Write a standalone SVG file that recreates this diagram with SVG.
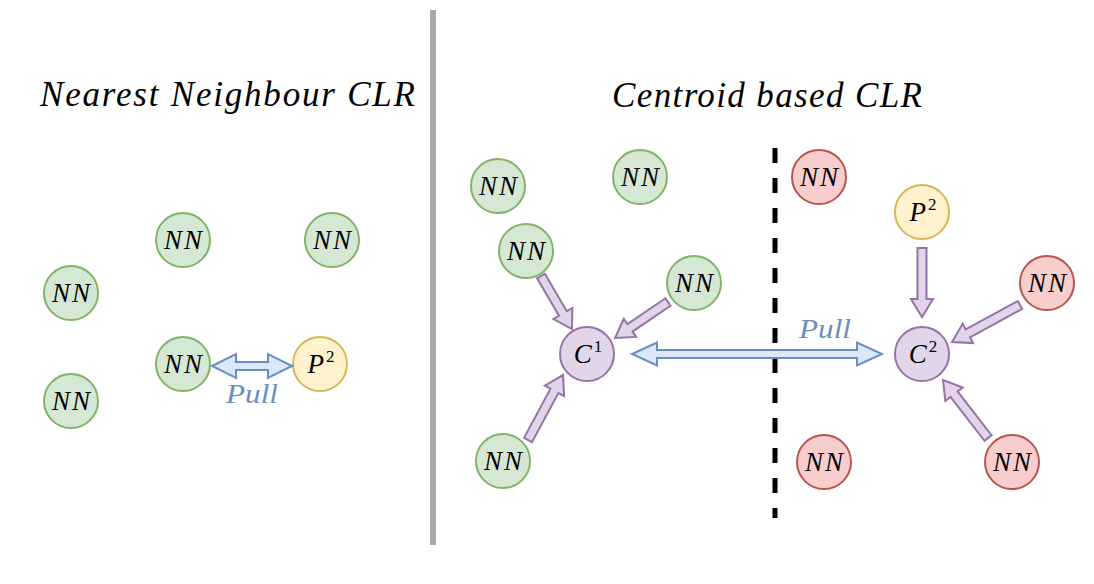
<svg xmlns="http://www.w3.org/2000/svg" width="1094" height="584" viewBox="0 0 1094 584">
<style>
.t{font-family:"Liberation Serif","DejaVu Serif",serif;font-style:italic;fill:#000}
.title{font-size:35px}
.nl{font-size:27px;text-anchor:middle;letter-spacing:2px}
.sup{font-style:normal;font-size:17px;letter-spacing:0}
.g{fill:#d5e8d4;stroke:#82b366;stroke-width:2}
.r{fill:#f8cecc;stroke:#b85450;stroke-width:2}
.y{fill:#fff2cc;stroke:#d6b656;stroke-width:2}
.p{fill:#e1d5e7;stroke:#9673a6;stroke-width:2}
.pa{fill:#e1d5e7;stroke:#9673a6;stroke-width:2;stroke-linejoin:miter}
.ba{fill:#dae8fc;stroke:#6c8ebf;stroke-width:2}
.pull{font-family:"Liberation Serif","DejaVu Serif",serif;font-style:italic;font-size:28px;fill:#6c8ebf}
</style>
<rect width="1094" height="584" fill="#fff"/>
<line x1="433" y1="10" x2="433" y2="545" stroke="#aaaaaa" stroke-width="6"/>
<line x1="775" y1="148" x2="775" y2="518" stroke="#000" stroke-width="5" stroke-dasharray="15 15"/>
<text class="t title" x="40" y="106" textLength="375" lengthAdjust="spacing">Nearest Neighbour CLR</text>
<text class="t title" x="612" y="107" textLength="310" lengthAdjust="spacing">Centroid based CLR</text>

<g id="L-nn1"><circle class="g" cx="183" cy="240" r="27"/><text class="t nl" x="184" y="249">NN</text></g>
<g id="L-nn2"><circle class="g" cx="332" cy="240" r="27"/><text class="t nl" x="333" y="249">NN</text></g>
<g id="L-nn3"><circle class="g" cx="71" cy="293" r="27"/><text class="t nl" x="72" y="302">NN</text></g>
<g id="L-nn4"><circle class="g" cx="183" cy="364" r="27"/><text class="t nl" x="184" y="373">NN</text></g>
<g id="L-p2"><circle class="y" cx="320" cy="364" r="27"/><text class="t nl" x="321" y="373">P<tspan class="sup" dy="-11">2</tspan></text></g>
<g id="L-nn5"><circle class="g" cx="71" cy="401" r="27"/><text class="t nl" x="72" y="410">NN</text></g>

<g id="R-nn1"><circle class="g" cx="498" cy="186" r="27"/><text class="t nl" x="499" y="195">NN</text></g>
<g id="R-nn2"><circle class="g" cx="640" cy="177" r="27"/><text class="t nl" x="641" y="186">NN</text></g>
<g id="R-nn3"><circle class="g" cx="526" cy="251" r="27"/><text class="t nl" x="527" y="260">NN</text></g>
<g id="R-nn4"><circle class="g" cx="694" cy="283" r="27"/><text class="t nl" x="695" y="292">NN</text></g>
<g id="R-c1"><circle class="p" cx="587" cy="354" r="27"/><text class="t nl" x="588" y="363">C<tspan class="sup" dy="-11">1</tspan></text></g>
<g id="R-nn5"><circle class="g" cx="503" cy="461" r="27"/><text class="t nl" x="504" y="470">NN</text></g>

<g id="R-rn1"><circle class="r" cx="819" cy="177" r="27"/><text class="t nl" x="820" y="186">NN</text></g>
<g id="R-p2"><circle class="y" cx="922" cy="212" r="27"/><text class="t nl" x="923" y="221">P<tspan class="sup" dy="-11">2</tspan></text></g>
<g id="R-rn2"><circle class="r" cx="1047" cy="283" r="27"/><text class="t nl" x="1048" y="292">NN</text></g>
<g id="R-c2"><circle class="p" cx="922" cy="354" r="27"/><text class="t nl" x="923" y="363">C<tspan class="sup" dy="-11">2</tspan></text></g>
<g id="R-rn3"><circle class="r" cx="824" cy="462" r="27"/><text class="t nl" x="825" y="471">NN</text></g>
<g id="R-rn4"><circle class="r" cx="1012" cy="462" r="27"/><text class="t nl" x="1013" y="471">NN</text></g>

<g id="connectors">
<path class="ba" d="M212,366 L236,354 L236,362 L268,362 L268,354 L292,366 L268,378 L268,370 L236,370 L236,378 Z"/>
<text class="pull" x="226" y="403" textLength="52" lengthAdjust="spacingAndGlyphs">Pull</text>
<path class="ba" d="M632,354 L657,342.5 L657,350 L857,350 L857,342.5 L882,354 L857,365.5 L857,358 L657,358 L657,365.5 Z"/>
<text class="pull" x="799" y="338" textLength="52" lengthAdjust="spacingAndGlyphs">Pull</text>
<g transform="translate(541,276) rotate(59.7)"><path class="pa" d="M0,-4.5 L43.4,-4.5 L43.4,-11 L61.4,0 L43.4,11 L43.4,4.5 L0,4.5 Z"/></g>
<g transform="translate(668,302) rotate(145.8)"><path class="pa" d="M0,-4.5 L46,-4.5 L46,-11 L64,0 L46,11 L46,4.5 L0,4.5 Z"/></g>
<g transform="translate(528,440) rotate(-61.7)"><path class="pa" d="M0,-4.5 L55.8,-4.5 L55.8,-11 L73.8,0 L55.8,11 L55.8,4.5 L0,4.5 Z"/></g>
<g transform="translate(922,248) rotate(90)"><path class="pa" d="M0,-4.5 L51,-4.5 L51,-11 L69,0 L51,11 L51,4.5 L0,4.5 Z"/></g>
<g transform="translate(1020,305) rotate(151.4)"><path class="pa" d="M0,-4.5 L59.4,-4.5 L59.4,-11 L77.4,0 L59.4,11 L59.4,4.5 L0,4.5 Z"/></g>
<g transform="translate(988,438) rotate(-127.8)"><path class="pa" d="M0,-4.5 L55.4,-4.5 L55.4,-11 L73.4,0 L55.4,11 L55.4,4.5 L0,4.5 Z"/></g>
</g>
</svg>
